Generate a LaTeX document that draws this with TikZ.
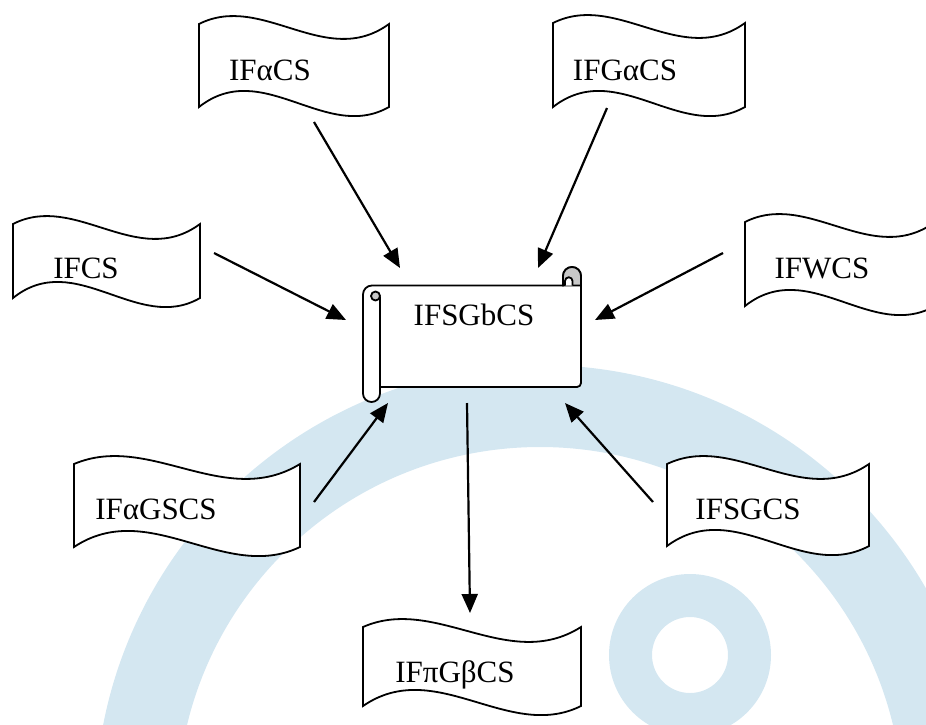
\documentclass[tikz,border=0pt]{standalone}
\usepackage{fontspec}
\setmainfont{Liberation Serif}
\usetikzlibrary{arrows.meta}
\definecolor{wmblue}{RGB}{212,231,241}
\definecolor{rollgrey}{RGB}{200,200,200}
\tikzset{
  flagline/.style={line width=0.9pt, fill=white},
  arr/.style={line width=1.1pt, -{Triangle[length=9.5pt,width=8pt]}},
  lbl/.style={inner sep=0pt, anchor=base, font=\fontsize{15.5}{18}\selectfont},
}
% wave flag: left, top, width, height
\newcommand{\flagshape}[4]{%
  \draw[flagline] (#1,#2) .. controls ({#1+#3/3},{#2-32}) and ({#1+2*#3/3},{#2+46}) .. ({#1+#3},#2)
    -- ({#1+#3},{#2+#4}) .. controls ({#1+2*#3/3},{#2+#4+36}) and ({#1+#3/3},{#2+#4-50}) .. (#1,{#2+#4}) -- cycle;}
\begin{document}
\begin{tikzpicture}[x=0.5pt,y=-0.5pt]
\useasboundingbox (0,0) rectangle (926,724);
\clip (0,0) rectangle (926,724);
% watermark
\fill[wmblue, even odd rule] (540,810) circle[radius=445] (540,810) circle[radius=363];
\fill[wmblue, even odd rule] (690,655) circle[radius=81] (690,655) circle[radius=38];
% flags
\flagshape{199}{24}{190}{83}
\flagshape{553}{23}{192}{84}
\flagshape{13}{224}{187}{74}
\flagshape{745}{222}{190}{84}
\flagshape{74}{464}{226}{83}
\flagshape{667}{464}{202}{82}
\flagshape{363}{627}{218}{79}
% scroll
\draw[line width=0.9pt, fill=white] (363,294.5) arc[start angle=180, end angle=270, radius=9]
  -- (563,285.5) -- (563,276) arc[start angle=180, end angle=360, radius=9]
  -- (581,383) arc[start angle=0, end angle=90, radius=4]
  -- (380,387) -- (380,393.5) arc[start angle=0, end angle=180, radius=8.5] -- cycle;
\filldraw[line width=0.9pt, fill=rollgrey] (563,285.5) -- (563,276) arc[start angle=180, end angle=360, radius=9] -- (581,285.5) -- cycle;
\filldraw[line width=0.9pt, fill=white] (572.5,285.5) -- (572.5,281) arc[start angle=0, end angle=-180, radius=3.75] -- (565,285.5);
\filldraw[line width=0.9pt, fill=rollgrey] (375.5,296) circle[radius=4.5];
\draw[line width=0.9pt] (380,297) -- (380,387);
% labels
\node[lbl] (acs) at (270,80) {IFαCS};
\node[lbl] (gacs) at (625,80) {IFGαCS};
\node[lbl] (cs) at (86,278) {IFCS};
\node[lbl] (wcs) at (822,278) {IFWCS};
\node[lbl] (agscs) at (156,519) {IFαGSCS};
\node[lbl] (sgcs) at (748,519) {IFSGCS};
\node[lbl] (pgbcs) at (455,682) {IFπGβCS};
\node[lbl] (sgb) at (474,325) {IFSGbCS};
% arrow ends
\coordinate (acs-out) at (314,122);
\coordinate (gacs-out) at (607,108);
\coordinate (cs-out) at (214,253);
\coordinate (wcs-out) at (723,253);
\coordinate (agscs-out) at (314,502);
\coordinate (sgcs-out) at (653,502);
\coordinate (sgb-out) at (467,403);
\coordinate (sgb-in1) at (400,268);
\coordinate (sgb-in2) at (538,268);
\coordinate (sgb-in3) at (346,320);
\coordinate (sgb-in4) at (595,320);
\coordinate (sgb-in5) at (388,403);
\coordinate (sgb-in6) at (565,403);
\coordinate (pgbcs-in) at (470,613);
\draw[arr] (acs-out) -- (sgb-in1);
\draw[arr] (gacs-out) -- (sgb-in2);
\draw[arr] (cs-out) -- (sgb-in3);
\draw[arr] (wcs-out) -- (sgb-in4);
\draw[arr] (agscs-out) -- (sgb-in5);
\draw[arr] (sgcs-out) -- (sgb-in6);
\draw[arr] (sgb-out) -- (pgbcs-in);
\end{tikzpicture}
\end{document}
